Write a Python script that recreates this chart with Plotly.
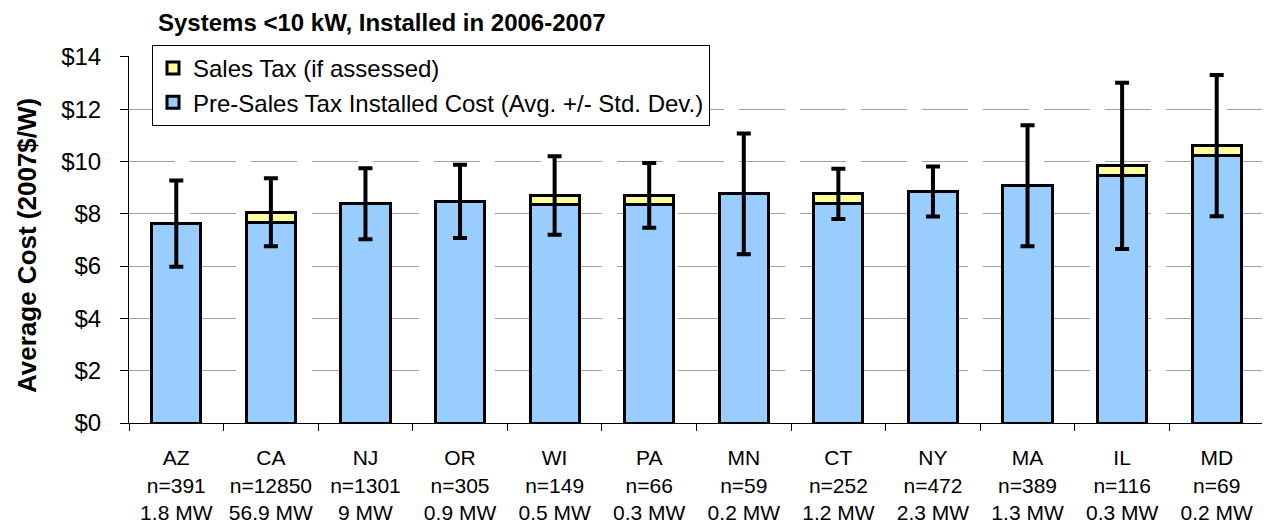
import plotly.graph_objects as go

states = ["AZ", "CA", "NJ", "OR", "WI", "PA", "MN", "CT", "NY", "MA", "IL", "MD"]
n_systems = [391, 12850, 1301, 305, 149, 66, 59, 252, 472, 389, 116, 69]
capacity_mw = ["1.8", "56.9", "9", "0.9", "0.5", "0.3", "0.2", "1.2", "2.3", "1.3", "0.3", "0.2"]
pre_tax_cost = [7.62, 7.68, 8.38, 8.47, 8.35, 8.35, 8.76, 8.40, 8.85, 9.07, 9.45, 10.22]
sales_tax = [0.0, 0.38, 0.0, 0.0, 0.35, 0.35, 0.0, 0.36, 0.0, 0.0, 0.38, 0.38]
std_dev = [1.65, 1.30, 1.36, 1.40, 1.50, 1.24, 2.31, 0.96, 0.96, 2.31, 3.18, 2.70]

labels = [f"{s}<br>n={n}<br>{c} MW" for s, n, c in zip(states, n_systems, capacity_mw)]
totals = [p + t for p, t in zip(pre_tax_cost, sales_tax)]

FONT = "Liberation Sans, Arial, sans-serif"
OFF = 8  # page body margin offset
W, H = 1270 - OFF, 527 - OFF
L, R, T, B = 129 - OFF, 6, 56 - OFF, 104
PW, PH = W - L - R, H - T - B

fig = go.Figure()
fig.add_trace(go.Bar(
    x=labels, y=pre_tax_cost, name="Pre-Sales Tax Installed Cost (Avg. +/- Std. Dev.)",
    marker=dict(color="#99CCFF", line=dict(color="black", width=3)),
))
fig.add_trace(go.Bar(
    x=labels, y=sales_tax, name="Sales Tax (if assessed)",
    marker=dict(color="#FFFF99", line=dict(color="black", width=3)),
))
fig.add_trace(go.Scatter(
    x=labels, y=totals, mode="markers", marker=dict(size=1, color="rgba(0,0,0,0)"),
    error_y=dict(type="data", array=std_dev, visible=True, color="black", thickness=4, width=7),
    showlegend=False, hoverinfo="skip",
))

fig.update_layout(
    width=W, height=H,
    barmode="stack", bargap=0.48,
    plot_bgcolor="white", paper_bgcolor="white",
    margin=dict(l=L, r=R, t=T, b=B),
    font=dict(family=FONT, color="black", size=21),
    title=dict(text="<b>Systems <10 kW, Installed in 2006-2007</b>", x=(158 - OFF) / W, xanchor="left",
               y=1 - (23 - OFF) / H, yanchor="middle", font=dict(size=24, family=FONT)),
    legend=dict(x=(152 - 129) / PW, y=1.0 + 11 / PH, xanchor="left", yanchor="top",
                bgcolor="white", bordercolor="black", borderwidth=1, traceorder="reversed",
                font=dict(size=24, family=FONT), tracegroupgap=0),
    showlegend=True,
    annotations=[dict(
        text="<b>Average Cost (2007$/W)</b>", textangle=-90, xref="paper", yref="paper",
        x=(27 - 129) / PW, y=(423 - 246) / PH, xanchor="center", yanchor="middle", showarrow=False,
        font=dict(size=26, family=FONT),
    )],
)
fig.update_xaxes(
    range=[-0.5, 11.5],
    showline=True, linecolor="black", linewidth=1, ticks="outside", ticklen=7, tickcolor="black",
    tickson="boundaries", showgrid=False, tickfont=dict(size=21, family=FONT), automargin=False,
    tickangle=0, ticklabelstandoff=16,
)
fig.update_yaxes(
    range=[0, 14.03], dtick=2, tickprefix="$", showline=True, linecolor="black", linewidth=1,
    ticks="outside", ticklen=8, tickcolor="black", showgrid=True, gridcolor="#a0a0a0", gridwidth=1,
    griddash="46px,15px", zeroline=False, tickfont=dict(size=24, family=FONT),
    ticklabelstandoff=14, automargin=False,
)

fig.write_html("out.html")
